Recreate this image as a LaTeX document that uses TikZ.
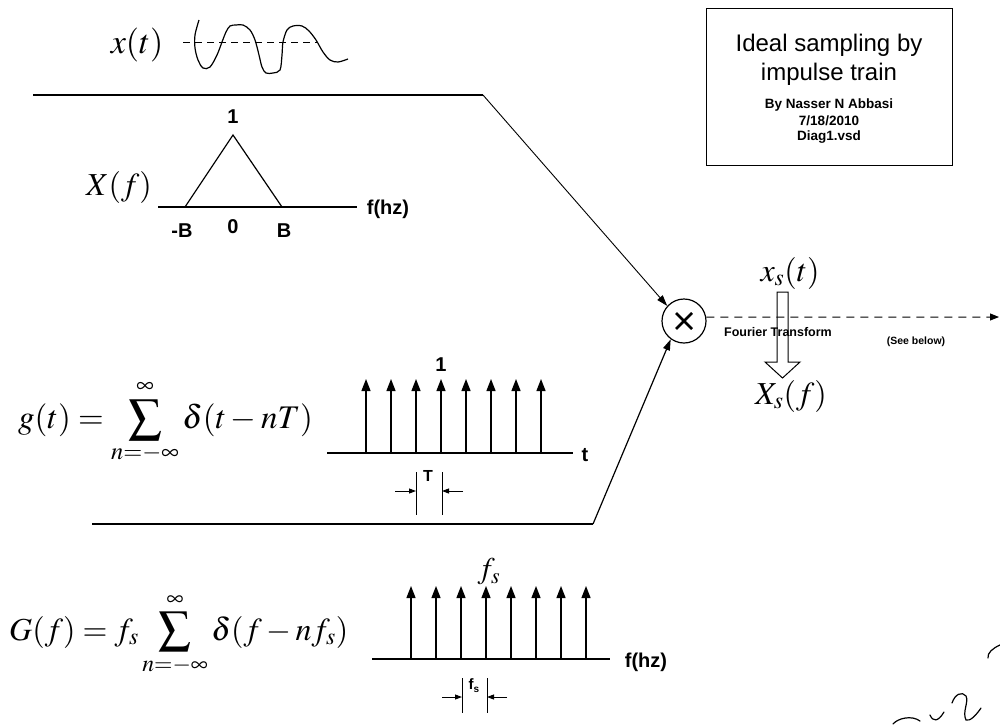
\documentclass[tikz,border=0pt]{standalone}
\usepackage{mathptmx}
\usepackage[no-math]{fontspec}
\setmainfont{Liberation Sans}
\usetikzlibrary{arrows.meta}
\begin{document}
\begin{tikzpicture}[x=1pt,y=-1pt,
  lbl/.style={inner sep=0pt,font=\fontsize{20}{23}\selectfont\bfseries},
  eq/.style={inner sep=0pt,font=\fontsize{32}{38}\selectfont},
  small/.style={inner sep=0pt,font=\fontsize{13.5}{16}\selectfont\bfseries},
  imp/.style={line width=1.3pt,-{Triangle[length=12pt,width=9pt]}},
  axis/.style={line width=1.3pt},
  dimarrow/.style={line width=0.9pt,-{Triangle[length=7pt,width=5pt]}},
  feed/.style={line width=0.9pt,-{Triangle[length=11pt,width=7pt]}},
  scrib/.style={line width=1.2pt,line cap=round}]
\useasboundingbox (0,0) rectangle (1000,726);

% ---------- title box ----------
\node[draw,line width=1pt,minimum width=246pt,minimum height=157pt,inner sep=0pt] (title) at (829,86.5) {};
\node[inner sep=0pt,font=\fontsize{24}{28}\selectfont] (t1) at (829,45) {Ideal sampling by};
\node[inner sep=0pt,font=\fontsize{24}{28}\selectfont] (t2) at (829,74) {impulse train};
\node[small] (t3) at (829,105) {By Nasser N Abbasi};
\node[small] (t4) at (829,121) {7/18/2010};
\node[small] (t5) at (829,137) {Diag1.vsd};

% ---------- x(t) ----------
\node[eq,font=\fontsize{34}{40}\selectfont] (xt) at (137,45) {$x(t)$};
\draw[line width=1pt,dash pattern=on 7pt off 5pt] (183,42) -- (318,42);
\draw[line width=1.2pt] plot[smooth,tension=0.55] coordinates {
 (199,20) (195,35) (195,48) (198,60) (203,68) (210,67) (217,55) (222,42)
 (226,32) (230,26) (236,25) (243,25) (250,30) (255,40) (259,55) (262,67)
 (266,73) (273,73) (280,70) (282,55) (283,42) (287,30) (293,26) (302,26)
 (309,31) (316,40) (323,52) (330,60) (338,62) (348,59)};

% ---------- X(f) ----------
\node[eq] (Xf) at (119,187) {$X(f)$};
\coordinate (Xl) at (185,207);
\coordinate (Xa) at (233,135);
\coordinate (Xr) at (282,207);
\draw[axis] (158,207) -- (357,207);
\draw[line width=1.2pt] (Xl) -- (Xa) -- (Xr);
\node[lbl] (one1) at (233,117) {1};
\node[lbl] (mB) at (182,231) {-B};
\node[lbl] (zero) at (233,227) {0};
\node[lbl] (pB) at (284,231) {B};
\node[lbl] (fhz1) at (388,209) {f(hz)};

% ---------- multiplier ----------
\node[circle,draw,line width=1.2pt,minimum size=44pt,inner sep=0pt] (mult) at (684,321) {};
\draw[line width=2.6pt] (676,313) -- (692,329);
\draw[line width=2.6pt] (676,329) -- (692,313);

% top connector
\coordinate (xin) at (33,95);
\coordinate (xbend) at (483,95);
\draw[line width=2pt] (xin) -- (xbend);
\draw[feed] (xbend) -- (mult.138);

% ---------- g(t) ----------
\node[eq,anchor=base west,font=\fontsize{33}{39}\selectfont] (gt) at (18,428)
  {$g(t) = \displaystyle\sum_{n=-\infty}^{\infty}\delta(t-nT)$};
\draw[axis] (327,453) -- (573,453);
\foreach \i in {0,...,7} {
  \draw[imp] ({366+25*\i},453) -- ({366+25*\i},379);
}
\node[lbl] (one2) at (441,365) {1};
\node[lbl] (tlab) at (585,455) {t};
\draw[line width=0.9pt] (416,472) -- (416,515);
\draw[line width=0.9pt] (442,472) -- (442,515);
\draw[dimarrow] (395,491) -- (416,491);
\draw[dimarrow] (463,491) -- (442,491);
\node[lbl,font=\fontsize{16}{19}\selectfont\bfseries] (Tlab) at (428,476) {T};

% bottom connector
\coordinate (gin) at (92,524);
\coordinate (gbend) at (593,524);
\draw[line width=2pt] (gin) -- (gbend);
\draw[feed,line width=1.2pt] (gbend) -- (mult.234);

% ---------- G(f) ----------
\node[eq,anchor=base west] (Gf) at (9,640)
  {$G(f) = f_s\displaystyle\sum_{n=-\infty}^{\infty}\delta(f-nf_s)$};
\draw[axis] (372,659) -- (610,659);
\foreach \i in {0,...,7} {
  \draw[imp] ({411+25*\i},659) -- ({411+25*\i},586);
}
\node[eq,font=\fontsize{30}{36}\selectfont] (fslab) at (489,572) {$f_s$};
\node[lbl] (fhz2) at (646,662) {f(hz)};
\draw[line width=0.9pt] (462,678) -- (462,713);
\draw[line width=0.9pt] (487,678) -- (487,713);
\draw[dimarrow] (442,697) -- (462,697);
\draw[dimarrow] (507,697) -- (487,697);
\node[inner sep=0pt,font=\fontsize{15}{17}\selectfont\bfseries] (fsdim) at (474,686) {f\raisebox{-3pt}{\fontsize{10}{11}\selectfont s}};

% ---------- output ----------
\coordinate (out) at (999,317);
\draw[line width=1pt,dash pattern=on 8pt off 6pt,-{Triangle[length=9pt,width=7pt]}] (mult.10) -- (out);
\node[eq] (xst) at (790,273) {$x_s(t)$};
\node[eq] (Xsf) at (791,396) {$X_s(f)$};
\draw[line width=1pt] (777,292) -- (788,292) -- (788,362) -- (800,362) -- (782.5,378) -- (765,362) -- (777,362) -- cycle;
\node[small,font=\fontsize{12.5}{15}\selectfont\bfseries] (ft) at (778,332) {Fourier Transform};
\node[inner sep=0pt,font=\fontsize{10.5}{12}\selectfont\bfseries] (see) at (916,342) {(See below)};

% ---------- handwriting ----------
\draw[scrib] (1000,645) .. controls (993,648) and (987,653) .. (988,658);
\draw[scrib] (952,703) .. controls (955,694) and (962,691) .. (966,696)
  .. controls (969,702) and (962,712) .. (966,720) .. controls (970,722) and (977,714) .. (981,708);
\draw[scrib] (893,724) .. controls (898,718) and (912,715) .. (920,721);
\draw[scrib] (930,715) .. controls (933,722) and (938,722) .. (944,712);
\end{tikzpicture}
\end{document}
